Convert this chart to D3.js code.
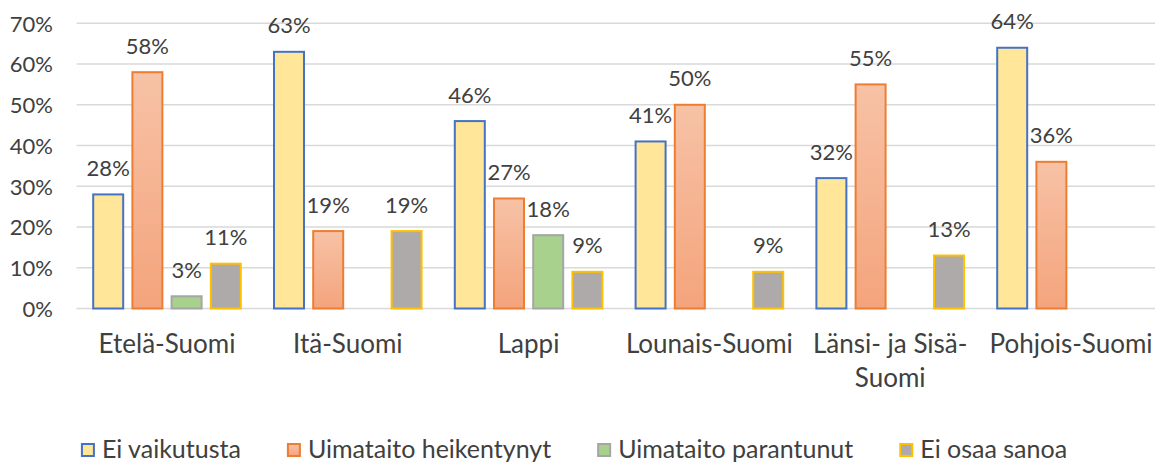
<!DOCTYPE html>
<html><head><meta charset="utf-8">
<script src="https://cdn.jsdelivr.net/npm/d3@7"></script>
<style>body{margin:0;background:#fff;}svg{display:block;}text{font-family:Lato, "Open Sans", sans-serif;fill:#404040;}</style>
</head><body>
<svg id="chart" width="1155" height="464"></svg>
<script>
const categories = ["Etelä-Suomi","Itä-Suomi","Lappi","Lounais-Suomi","Länsi- ja Sisä-Suomi","Pohjois-Suomi"];
const seriesNames = ["Ei vaikutusta","Uimataito heikentynyt","Uimataito parantunut","Ei osaa sanoa"];
const eiVaikutusta = [28,63,46,41,32,64];
const heikentynyt = [58,19,27,50,55,36];
const parantunut = [3,0,18,0,0,0];
const eiOsaa = [11,19,9,9,13,0];
const yTicks = [0,10,20,30,40,50,60,70];

const seriesValues = [eiVaikutusta, heikentynyt, parantunut, eiOsaa];
const fills = ["#FFE699","url(#gradOrange)","#A9D18E","#AEAAAA"];
const strokes = ["#4472C4","#ED7D31","#A5A5A5","#FFC000"];

const svg = d3.select("#chart");
const defs = svg.append("defs");
const g1 = defs.append("linearGradient").attr("id","gradOrange").attr("x1",0).attr("y1",0).attr("x2",0).attr("y2",1);
g1.append("stop").attr("offset","0%").attr("stop-color","#F7C2A6");
g1.append("stop").attr("offset","100%").attr("stop-color","#F4A47C");

const left = 76.6, groupW = 180.8;
const x0 = d3.scaleBand().domain(categories).range([left, left + groupW*6]).padding(0);
const x1 = d3.scaleBand().domain(seriesNames).range([15.6, 165.2]).paddingInner(0.184).paddingOuter(0);
const y = d3.scaleLinear().domain([0,70]).range([308.5, 23.3]);

// gridlines
svg.append("g").selectAll("line").data(yTicks).join("line")
  .attr("x1", left).attr("x2", 1155)
  .attr("y1", d=>y(d)).attr("y2", d=>y(d))
  .attr("stroke","#D9D9D9").attr("stroke-width",1.6);

// y axis labels
const yAxis = d3.axisLeft(y).tickValues(yTicks).tickFormat(d=>d+"%").tickSize(0).tickPadding(0);
const ya = svg.append("g").attr("transform","translate(53,0)").call(yAxis);
ya.select(".domain").remove();
ya.selectAll("text").style("font-size","22px").attr("fill","#404040").attr("dy","0.36em");

// bars
const data = [];
categories.forEach((c,i)=>seriesNames.forEach((s,j)=>data.push({c, s, j, v: seriesValues[j][i]})));
const barsData = data.filter(d=>d.v>0);
svg.append("g").selectAll("rect").data(barsData).join("rect")
  .attr("x", d=>x0(d.c)+x1(d.s)+1)
  .attr("y", d=>y(d.v))
  .attr("width", x1.bandwidth()-2)
  .attr("height", d=>y(0)-y(d.v))
  .attr("fill", d=>fills[d.j])
  .attr("stroke", d=>strokes[d.j])
  .attr("stroke-width",2);

// data labels
svg.append("g").selectAll("text").data(barsData).join("text")
  .attr("x", d=>x0(d.c)+x1(d.s)+x1.bandwidth()/2)
  .attr("y", d=>y(d.v)-18.5)
  .attr("text-anchor","middle")
  .style("font-size","22px")
  .text(d=>d.v+"%");

// category labels with wrapping
const xAxis = d3.axisBottom(x0).tickSize(0).tickPadding(0);
const xa = svg.append("g").attr("transform","translate(0,353)").call(xAxis);
xa.select(".domain").remove();
xa.selectAll("text").style("font-size","26px").attr("fill","#404040").attr("dy",0).attr("y",0)
  .each(function(d){
    const t = d3.select(this);
    const tokens = d.match(/[^\s-]+-?\s*/g);
    t.text(null);
    let lines = [], cur = "";
    const maxW = groupW - 4;
    const probe = t.append("tspan");
    tokens.forEach(tok=>{
      const test = cur + tok;
      probe.text(test.trim());
      if (cur && probe.node().getComputedTextLength() > maxW) { lines.push(cur.trim()); cur = tok; }
      else cur = test;
    });
    lines.push(cur.trim());
    probe.remove();
    lines.forEach((ln,k)=>t.append("tspan").attr("x",0).attr("dy", k===0?0:34).text(ln));
  });

// legend
const legend = svg.append("g");
let lx = 0;
seriesNames.forEach((s,j)=>{
  const it = legend.append("g").attr("transform",`translate(${lx},0)`);
  it.append("rect").attr("x",1).attr("y",444).attr("width",12).attr("height",12)
    .attr("fill",fills[j]).attr("stroke",strokes[j]).attr("stroke-width",2);
  const tx = it.append("text").attr("x",21).attr("y",458).style("font-size","25px").text(s);
  lx += 21 + tx.node().getComputedTextLength() + (j<seriesNames.length-1?46:0);
});
legend.attr("transform",`translate(${574 - lx/2},0)`);
</script>
</body></html>
